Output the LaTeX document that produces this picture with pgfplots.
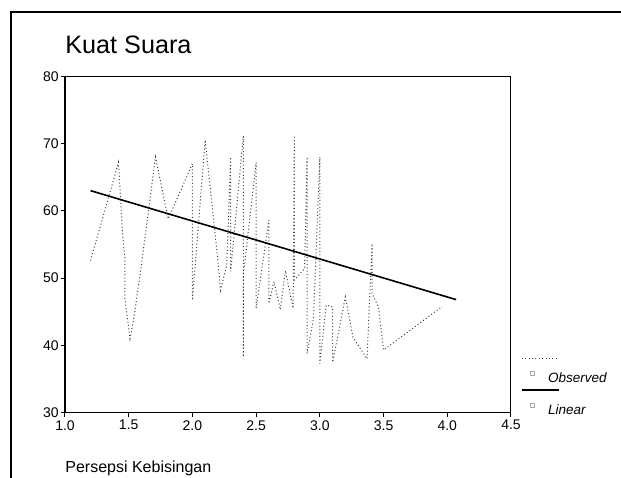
\documentclass[border=0pt]{standalone}
\usepackage{fontspec}
\setmainfont{Liberation Sans}
\usepackage{pgfplots}
\pgfplotsset{compat=1.18}
\begin{document}
\begin{tikzpicture}
\useasboundingbox (0,0) rectangle (310.5pt,238.5pt);
\draw[line width=1pt] (5.5pt,-2pt) -- (5.5pt,232.5pt) -- (312pt,232.5pt);
\node[anchor=base west, font=\fontsize{12.6}{14}\selectfont, inner sep=0pt] at (32.5pt,211.5pt) {Kuat Suara};
\begin{axis}[
  at={(32.5pt,32.15pt)}, anchor=south west,
  scale only axis, width=223pt, height=168.25pt,
  xmin=1, xmax=4.5, ymin=30, ymax=80,
  xtick={1,1.5,2,2.5,3,3.5,4,4.5}, ytick={30,40,50,60,70,80},
  /pgf/number format/assume math mode=true,
  tick align=outside, tick pos=left, major tick length=2pt,
  axis line style={line width=0.5pt},
  tick style={black, line width=0.5pt},
  ticklabel style={font=\fontsize{7}{8}\selectfont, inner sep=1pt},
  xticklabel style={yshift=-0.6pt, /pgf/number format/.cd, fixed, fixed zerofill, precision=1},
  xlabel={Persepsi Kebisingan},
  xlabel style={at={(axis description cs:0,0)}, anchor=base west, yshift=-30pt, font=\fontsize{8}{9}\selectfont, inner sep=0pt},
  legend style={draw=none, fill=none, inner sep=0pt, at={(1,0)}, anchor=south west, xshift=9.5pt, yshift=-2.65pt,
    font=\fontsize{6.75}{8}\selectfont\itshape, row sep=8.6pt, nodes={inner sep=0pt},
    /tikz/every odd column/.append style={column sep=6.5pt}},
  legend cell align=left,
  legend image code/.code={
    \draw[#1, overlay] (-5.5pt,10.5pt) -- (13pt,10.5pt);
    \draw[black!35, line width=0.4pt, solid] (-1pt,2pt) rectangle (1pt,4pt);
  },
]
\addplot[black!75, line width=0.5pt, dash pattern=on 0.5pt off 1.2pt] coordinates {
(1.20,52.6) (1.42,67.2) (1.45,57.0) (1.47,53.0) (1.47,47.0) (1.51,41.0) (1.54,44.0)
(1.60,52.0) (1.71,68.0) (1.81,58.8) (2.00,67.0) (2.00,46.7) (2.10,70.5) (2.20,52.6)
(2.22,48.2) (2.27,52.0) (2.30,68.0) (2.30,51.0) (2.40,71.2) (2.40,38.3) (2.40,50.5)
(2.50,67.2) (2.50,45.5) (2.60,58.6) (2.60,46.2) (2.64,49.5) (2.69,45.3) (2.73,51.1)
(2.79,45.5) (2.80,71.2) (2.80,49.7) (2.88,51.4) (2.90,68.0) (2.90,38.8) (2.95,44.0)
(3.00,68.0) (3.00,37.3) (3.05,46.0) (3.10,45.7) (3.10,37.5) (3.15,42.2) (3.20,47.2)
(3.26,41.2) (3.37,38.0) (3.41,55.1) (3.41,47.7) (3.46,45.7) (3.50,39.3) (3.96,45.8)
};
\addlegendentry{Observed}
\addplot[black, line width=0.8pt] coordinates {(1.20,63.0) (4.07,46.8)};
\addlegendentry{Linear}
\draw[line width=1pt] (rel axis cs:0,1) -- (rel axis cs:0,0) -- (rel axis cs:1,0);
\end{axis}
\end{tikzpicture}
\end{document}
